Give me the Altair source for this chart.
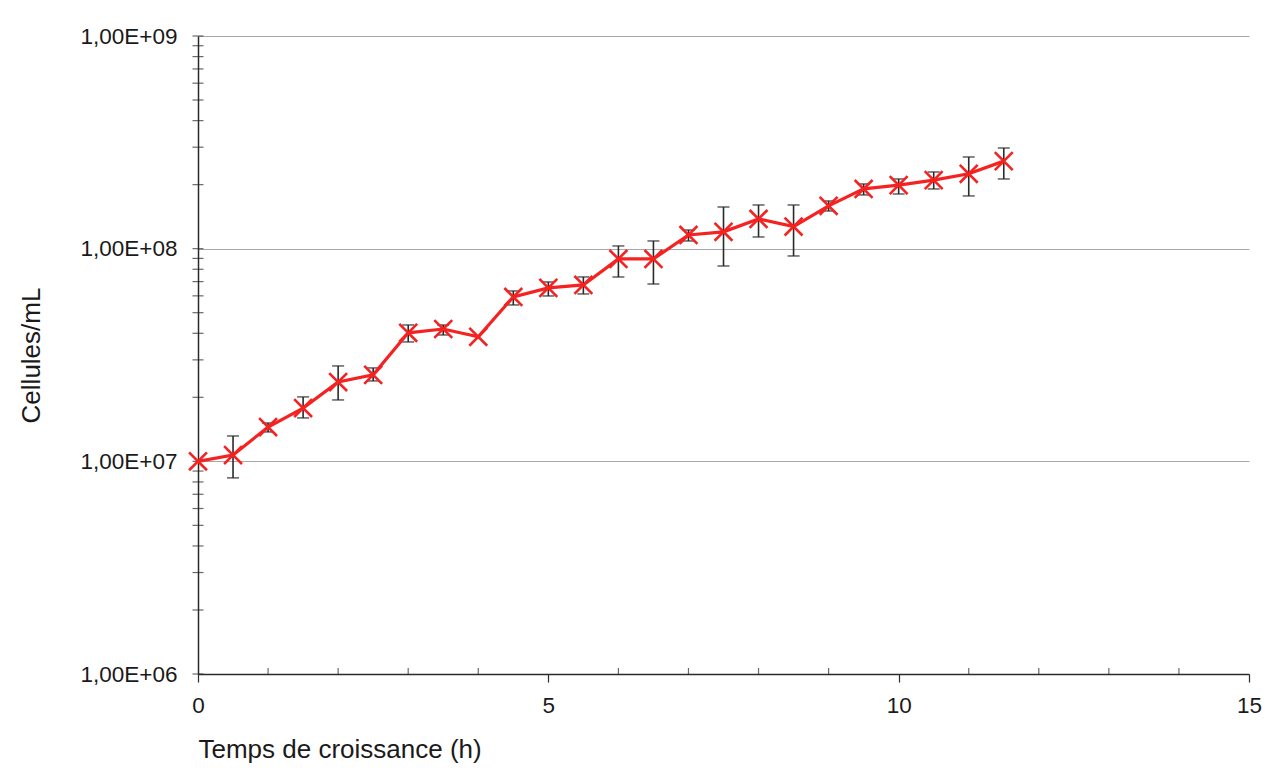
import altair as alt
import pandas as pd

# Data
time_h = [0, 0.5, 1, 1.5, 2, 2.5, 3, 3.5, 4, 4.5, 5, 5.5, 6, 6.5, 7, 7.5, 8, 8.5,
          9, 9.5, 10, 10.5, 11, 11.5]
cells = [1.0e7, 1.07e7, 1.45e7, 1.78e7, 2.36e7, 2.55e7, 4.02e7, 4.19e7, 3.85e7,
         5.93e7, 6.54e7, 6.75e7, 8.95e7, 8.95e7, 1.16e8, 1.20e8, 1.38e8, 1.27e8,
         1.59e8, 1.91e8, 1.99e8, 2.10e8, 2.25e8, 2.58e8]
err_low = [None, 8.36e6, 1.375e7, 1.60e7, 1.944e7, 2.388e7, 3.642e7, 3.928e7, None,
           5.437e7, 5.993e7, 6.124e7, 7.36e7, 6.82e7, 1.087e8, 8.29e7, 1.135e8, 9.24e7,
           1.504e8, 1.789e8, 1.808e8, 1.909e8, 1.770e8, 2.127e8]
err_high = [None, 1.316e7, 1.515e7, 2.009e7, 2.809e7, 2.749e7, 4.377e7, 4.377e7, None,
            6.327e7, 6.974e7, 7.362e7, 1.030e8, 1.087e8, 1.224e8, 1.570e8, 1.605e8, 1.605e8,
            1.676e8, 2.015e8, 2.127e8, 2.294e8, 2.699e8, 2.974e8]

y_major = [1e6, 1e7, 1e8, 1e9]
y_minor_ticks = [m * d for d in [1e6, 1e7, 1e8] for m in range(1, 10)] + [1e9]
x_major = [0, 5, 10, 15]
x_minor_ticks = [v for v in range(1, 15) if v % 5 != 0]

df = pd.DataFrame({"t": time_h, "c": cells, "lo": err_low, "hi": err_high})
err_df = df.dropna()
ytick_df = pd.DataFrame({"v": y_minor_ticks})
xtick_df = pd.DataFrame({"v": x_minor_ticks})

FONT = "Liberation Sans"
RED = "#f52222"
DARK = "#2a2a2a"

x_scale = alt.Scale(domain=[0, 15], nice=False, zero=False)
y_scale = alt.Scale(type="log", domain=[1e6, 1e9], nice=False)

x_enc = alt.X(
    "t:Q", scale=x_scale,
    axis=alt.Axis(
        title="Temps de croissance (h)", values=x_major, grid=False, format="d",
        tickSize=8, tickColor=DARK, tickWidth=1.2, labelPadding=12,
        domainColor=DARK, domainWidth=1.5, titleAnchor="start",
        titlePadding=20, labelFlush=False, titleFontSize=26,
    ),
)
y_enc = alt.Y(
    "c:Q", scale=y_scale,
    axis=alt.Axis(
        title="Cellules/mL", values=y_major, grid=True, gridColor="#a8a8a8",
        gridWidth=1.2, ticks=False, labelPadding=21, domainColor=DARK,
        domainWidth=1.5, labelExpr="'1,00E+0' + round(log(datum.value) / LN10)",
        titlePadding=36, titleFontSize=26,
    ),
)

base = alt.Chart(df)

line = base.mark_line(color=RED, strokeWidth=3.2).encode(x=x_enc, y=y_enc)
points = base.mark_point(
    shape="M-1,-1L1,1M-1,1L1,-1", filled=False, color=RED, strokeWidth=2.6, size=320, opacity=1
).encode(x="t:Q", y="c:Q")

err_base = alt.Chart(err_df)
err_rule = err_base.mark_rule(color=DARK, strokeWidth=1.6).encode(x="t:Q", y="lo:Q", y2="hi:Q")
cap_lo = err_base.mark_tick(orient="horizontal", color=DARK, thickness=1.6, size=12).encode(x="t:Q", y="lo:Q")
cap_hi = err_base.mark_tick(orient="horizontal", color=DARK, thickness=1.6, size=12).encode(x="t:Q", y="hi:Q")

yticks = alt.Chart(ytick_df).mark_tick(
    orient="horizontal", color=DARK, thickness=1.2, size=11
).encode(x=alt.datum(0), y="v:Q")
xticks = alt.Chart(xtick_df).mark_tick(
    orient="vertical", color=DARK, thickness=1.2, size=6, yOffset=-3
).encode(x="v:Q", y=alt.datum(1e6))

chart = alt.layer(err_rule, cap_lo, cap_hi, yticks, xticks, line, points).properties(
    width=1051, height=638,
    background="white",
    autosize=alt.AutoSizeParams(type="none"),
    padding={"left": 190, "top": 28, "right": 13, "bottom": 100},
).configure_view(stroke=None).configure_axis(
    labelFont=FONT, titleFont=FONT, labelFontSize=22.5,
    labelColor="#1a1a1a", titleColor="#1a1a1a", titleFontWeight="normal",
)

chart.save("out.html", embed_options={"renderer": "svg", "actions": False})
